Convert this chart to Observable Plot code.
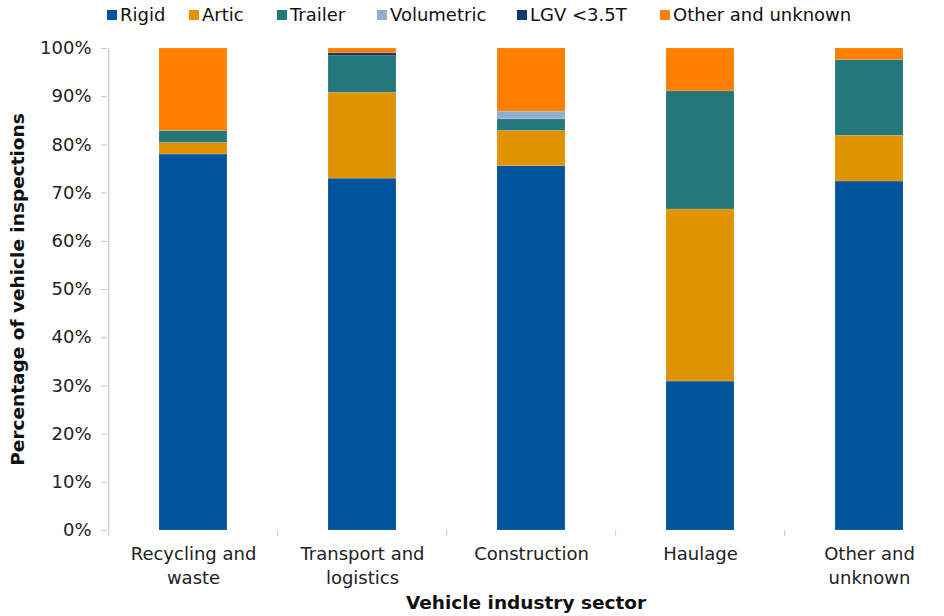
<!DOCTYPE html>
<html><head><meta charset="utf-8">
<script src="https://cdn.jsdelivr.net/npm/d3@7"></script>
<script src="https://cdn.jsdelivr.net/npm/@observablehq/plot@0.6"></script>
<style>
body{margin:0;background:#fff;font-family:"DejaVu Sans",Verdana,sans-serif;}
#wrap{position:relative;width:944px;height:616px;overflow:hidden;}
#legend{position:relative;height:30px;font-size:18px;color:#111;}
.li{position:absolute;top:4px;white-space:nowrap;}
.sw{display:inline-block;width:10px;height:10px;margin-right:3px;vertical-align:1px;}
g[aria-label="y-axis label"] text, g[aria-label="x-axis label"] text{font-weight:bold;font-size:18.5px;fill:#111;}
</style></head>
<body><div id="wrap"><div id="legend"></div><div id="chart"></div></div>
<script>
const categories = ["Recycling and waste","Transport and logistics","Construction","Haulage","Other and unknown"];
const categoryLabels = ["Recycling and\nwaste","Transport and\nlogistics","Construction","Haulage","Other and\nunknown"];
const series = ["Rigid","Artic","Trailer","Volumetric","LGV <3.5T","Other and unknown"];
const colors = ["#00549e","#e09200","#22787a","#8eaed4","#0c3a6a","#ff7f00"];
const rigid      = [78.0, 73.0, 75.6, 30.9, 72.4];
const artic      = [2.4, 17.8, 7.3, 35.7, 9.5];
const trailer    = [2.5, 7.6, 2.4, 24.5, 15.7];
const volumetric = [0, 0, 1.6, 0, 0];
const lgv        = [0, 0.6, 0, 0, 0];
const other      = [17.1, 1.0, 13.1, 8.9, 2.4];
const yTicks = [0,0.1,0.2,0.3,0.4,0.5,0.6,0.7,0.8,0.9,1];
const legendX = [107,189,277,377,517,660];

const valuesBySeries = [rigid, artic, trailer, volumetric, lgv, other];
const data = [];
series.forEach((s,i)=>categories.forEach((c,j)=>data.push({sector:c, type:s, value:valuesBySeries[i][j]/100})));

const lg = document.getElementById("legend");
series.forEach((s,i)=>{
  const d = document.createElement("div"); d.className="li"; d.style.left=legendX[i]+"px";
  d.innerHTML = `<span class="sw" style="background:${colors[i]}"></span>${s.replace("<","&lt;")}`;
  lg.appendChild(d);
});

const step = (955-107)/5;
const chart = Plot.plot({
  width: 944, height: 586,
  marginTop: 18, marginBottom: 86, marginLeft: 107, marginRight: 0,
  style: {fontFamily: '"DejaVu Sans", Verdana, sans-serif', fontSize: "18px", color:"#222", overflow:"visible"},
  x: {type:"band", domain: categories, range:[107,955], padding:0.6, paddingOuter:0.3, align:0.5},
  y: {domain:[0,1]},
  color: {domain: series, range: colors},
  marks: [
    Plot.ruleY(yTicks, {y: d=>d, x1: 0, x2: 0, stroke:"#c8c8c8", strokeWidth:1.3, render: (i,s,v,dim,ctx,next)=>{
      const g = next(i,s,v,dim,ctx);
      d3.select(g).selectAll("line").attr("x1",107).attr("x2",955);
      return g;}}),
    Plot.barY(data, {x:"sector", y:"value", fill:"type", order: series, stroke:"#ffffff", strokeOpacity:0.25, strokeWidth:0.5}),
    Plot.ruleX([0], {x: ()=>categories[0], dx:-step/2, y1:0, y2:1, stroke:"#c8c8c8", strokeWidth:1.3}),
    Plot.axisY({ticks: yTicks, tickFormat: d3.format(".0%"), tickSize:6, stroke:"#c8c8c8", tickPadding:10,
      label:"Percentage of vehicle inspections", labelAnchor:"center", labelArrow:"none", labelOffset:97, fill:"#222"}),
    Plot.axisX({tickSize:6, tickFormat: ()=>"", dx:-step/2, stroke:"#c8c8c8", label:null}),
    Plot.axisX({tickSize:0, tickFormat:(d,i)=>categoryLabels[categories.indexOf(d)], tickPadding:13, lineHeight:1.3, fill:"#222",
      label:"Vehicle industry sector", labelAnchor:"center", labelArrow:"none", labelOffset:78})
  ]
});
document.getElementById("chart").appendChild(chart);
</script></body></html>
